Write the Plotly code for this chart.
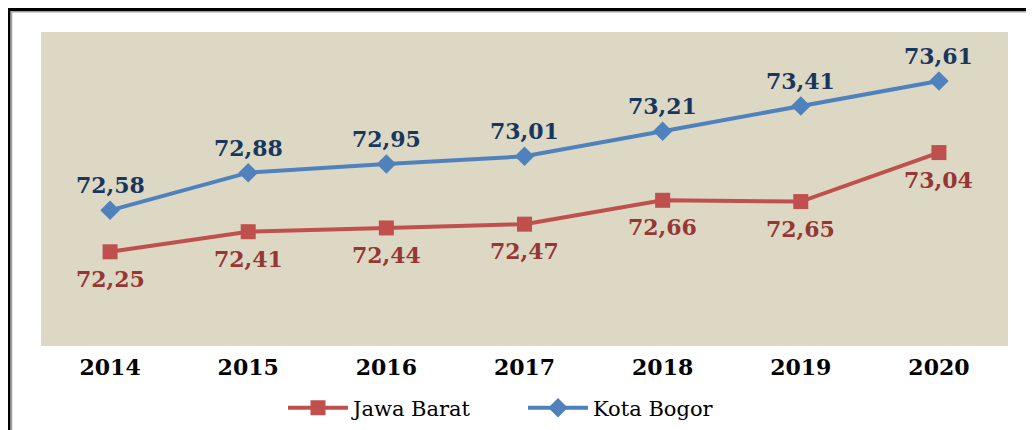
import plotly.graph_objects as go

years = ["2014", "2015", "2016", "2017", "2018", "2019", "2020"]
jawa_barat = [72.25, 72.41, 72.44, 72.47, 72.66, 72.65, 73.04]
kota_bogor = [72.58, 72.88, 72.95, 73.01, 73.21, 73.41, 73.61]

def fmt(v):
    return f"{v:.2f}".replace(".", ",")

RED = "#C0504D"
BLUE = "#4F81BD"
RED_LBL = "#953735"
BLUE_LBL = "#17375E"
LBL_FONT = "DejaVu Serif"

fig = go.Figure()
fig.add_trace(go.Scatter(
    x=years, y=jawa_barat, name="Jawa Barat", mode="lines+markers",
    line=dict(color=RED, width=4),
    marker=dict(symbol="square", size=15, color=RED),
))
fig.add_trace(go.Scatter(
    x=years, y=kota_bogor, name="Kota Bogor", mode="lines+markers",
    line=dict(color=BLUE, width=4),
    marker=dict(symbol="diamond", size=15, color=BLUE),
))

annotations = []
for i, v in enumerate(kota_bogor):
    annotations.append(dict(x=i, y=v, xref="x", yref="y", text=fmt(v),
                            showarrow=False, yshift=25,
                            font=dict(family=LBL_FONT, size=22, color=BLUE_LBL, weight="bold")))
for i, v in enumerate(jawa_barat):
    annotations.append(dict(x=i, y=v, xref="x", yref="y", text=fmt(v),
                            showarrow=False, yshift=-27,
                            font=dict(family=LBL_FONT, size=22, color=RED_LBL, weight="bold")))

# page body has an 8px margin, so the figure origin is at (8, 8) in the screenshot
OFF = 8
W, H = 1034 - OFF, 430 - OFF
PLOT_L, PLOT_T, PLOT_R, PLOT_B = 41, 32, 1008, 346   # plot area in screenshot pixels
L, T, R, B = PLOT_L - OFF, PLOT_T - OFF, (OFF + W) - PLOT_R, 0
pw, paper_h = W - L - R, H - T - B
dom_bottom = (paper_h - (PLOT_B - PLOT_T)) / paper_h

def px_x(p):
    return (p - OFF - L) / pw
def px_y(p):
    return 1 - (p - OFF - T) / paper_h

shapes = [
    dict(type="line", xref="paper", yref="paper", x0=px_x(9), x1=px_x(9),
         y0=px_y(8), y1=px_y(440), line=dict(color="black", width=3)),
    dict(type="line", xref="paper", yref="paper", x0=px_x(8), x1=px_x(1040),
         y0=px_y(9.5), y1=px_y(9.5), line=dict(color="black", width=3)),
    dict(type="line", xref="paper", yref="paper", x0=px_x(11.5), x1=px_x(11.5),
         y0=px_y(11.5), y1=px_y(440), line=dict(color="#A0A0A0", width=1.5)),
    dict(type="line", xref="paper", yref="paper", x0=px_x(11.5), x1=px_x(1040),
         y0=px_y(11.8), y1=px_y(11.8), line=dict(color="#A0A0A0", width=1.5)),
]

fig.update_layout(
    width=W, height=H,
    margin=dict(l=L, r=R, t=T, b=B, autoexpand=False),
    paper_bgcolor="white",
    plot_bgcolor="#DDD8C3",
    showlegend=True,
    legend=dict(orientation="h", x=px_x(283), xanchor="left", y=px_y(408), yanchor="middle",
                font=dict(family=LBL_FONT, size=21, color="black"),
                itemwidth=60, entrywidth=165, bgcolor="rgba(0,0,0,0)"),
    xaxis=dict(type="category", range=[-0.5, 6.5], showgrid=False, zeroline=False, showline=False,
               ticks="outside", ticklen=2, tickcolor="rgba(0,0,0,0)",
               tickfont=dict(family=LBL_FONT, size=22, color="black", weight="bold")),
    yaxis=dict(domain=[dom_bottom, 1], range=[71.5, 74.0], showgrid=False, zeroline=False,
               showline=False, showticklabels=False, ticks=""),
    annotations=annotations,
    shapes=shapes,
)

fig.write_html("out.html")
